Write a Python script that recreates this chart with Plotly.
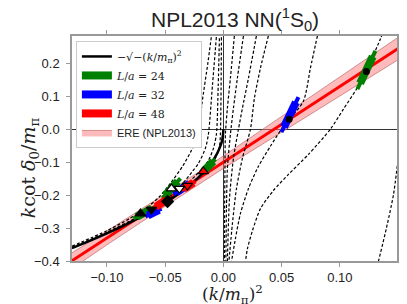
import plotly.graph_objects as go

# ---------------- data ----------------
# black solid curve  -sqrt(-(k/m)^2)
blk_x = [-0.13, -0.12, -0.10, -0.08, -0.06, -0.045, -0.035, -0.025, -0.018, -0.012, -0.008, -0.005, -0.0025, -0.001, 0.0]
blk_y = [-0.3606, -0.3464, -0.3162, -0.2828, -0.2449, -0.2121, -0.1871, -0.1581, -0.1342, -0.1095, -0.0894, -0.0707, -0.05, -0.0316, 0.0]

# ERE band (NPL2013)
ere_x = [-0.13, -0.10, -0.05, 0.0, 0.05, 0.10, 0.15]
ere_c = [-0.399, -0.330, -0.215, -0.100, 0.015, 0.130, 0.245]
ere_lo = [-0.423, -0.351, -0.234, -0.119, -0.009, 0.101, 0.211]
ere_hi = [-0.375, -0.309, -0.196, -0.081, 0.039, 0.159, 0.279]

# dashed Luscher curves (left branches)
L1_x = [-0.13, -0.10, -0.08, -0.065, -0.055, -0.045, -0.035, -0.028, -0.0215, -0.0184, -0.0134, -0.0103]
L1_y = [-0.355, -0.308, -0.270, -0.236, -0.205, -0.162, -0.112, -0.068, -0.015, 0.079, 0.20, 0.283]
L2_x = [-0.13, -0.10, -0.08, -0.06, -0.045, -0.035, -0.0266, -0.0215, -0.0155, -0.0129, -0.0094, -0.006]
L2_y = [-0.359, -0.313, -0.278, -0.238, -0.200, -0.165, -0.128, -0.104, -0.058, -0.015, 0.134, 0.283]
L3_x = [-0.13, -0.10, -0.08, -0.06, -0.045, -0.03, -0.0197, -0.0129, -0.0086, -0.006, -0.0045, -0.0034]
L3_y = [-0.360, -0.315, -0.281, -0.243, -0.207, -0.162, -0.125, -0.095, -0.058, -0.015, 0.13, 0.283]
L4_x = [-0.13, -0.10, -0.08, -0.06, -0.045, -0.03, -0.0172, -0.0103, -0.006, -0.0034, -0.0026, -0.0017]
L4_y = [-0.3605, -0.316, -0.282, -0.244, -0.210, -0.170, -0.134, -0.107, -0.082, -0.052, -0.015, 0.283]

# dashed Luscher curves (right branches)
Ra_x = [0.0094, 0.0060, 0.0034, 0.0017, 0.0013, 0.0010, 0.0009]
Ra_y = [0.2835, 0.1555, 0.064, -0.015, -0.119, -0.241, -0.402]
Rb_x = [0.0172, 0.0120, 0.0086, 0.0060, 0.0034, 0.0026, 0.0021]
Rb_y = [0.2835, 0.1555, 0.064, -0.015, -0.119, -0.241, -0.402]
Rc_x = [0.0283, 0.0215, 0.0163, 0.0129, 0.0086, 0.0052, 0.0034]
Rc_y = [0.2835, 0.1555, 0.064, 0.0, -0.088, -0.210, -0.402]
Rd_x = [0.0386, 0.0318, 0.0266, 0.0232, 0.0163, 0.0112, 0.0077, 0.0047]
Rd_y = [0.2835, 0.186, 0.0945, 0.0, -0.088, -0.180, -0.287, -0.402]
Re_x = [0.0807, 0.0747, 0.0687, 0.0567, 0.0498, 0.0403, 0.0300, 0.0215, 0.0146, 0.0103, 0.0069]
Re_y = [0.2835, 0.186, 0.0854, 0.0305, 0.0, -0.0518, -0.1128, -0.180, -0.256, -0.332, -0.402]
Rf_x = [0.1365, 0.1348, 0.1245, 0.1142, 0.1030, 0.0918, 0.0730, 0.0558, 0.0429, 0.0318, 0.0249, 0.0206, 0.0189]
Rf_y = [0.290, 0.2744, 0.192, 0.122, 0.061, 0.0, -0.0762, -0.1372, -0.186, -0.241, -0.308, -0.363, -0.402]
Rg_x = [0.133, 0.140, 0.146, 0.1494]
Rg_y = [-0.402, -0.299, -0.198, -0.107]

# lattice results: segment ends (lo -> hi) and centres
g24_x0 = [0.1150, -0.0773, -0.0524, -0.0189]
g24_y0 = [0.122, -0.271, -0.210, -0.134]
g24_x1 = [0.1305, -0.0584, -0.0369, -0.0069]
g24_y1 = [0.238, -0.235, -0.149, -0.091]
b32_x0 = [0.0498, -0.0670, -0.0429]
b32_y0 = [-0.009, -0.265, -0.198]
b32_x1 = [0.0644, -0.0532, -0.0266]
b32_y1 = [0.0976, -0.241, -0.159]
r48_x0 = [-0.060, -0.036]
r48_y0 = [-0.240, -0.185]
r48_x1 = [-0.047, -0.024]
r48_y1 = [-0.210, -0.158]
ctr_x = [0.1227, 0.0564]
ctr_y = [0.175, 0.030]

# other symbols in the cluster
mk_x = [-0.0712, -0.0618, -0.0480, -0.0446, -0.0378, -0.0309, -0.0172]
mk_y = [-0.256, -0.244, -0.2195, -0.180, -0.180, -0.171, -0.128]
mk_sym = ["triangle-up", "triangle-down", "diamond", "triangle-up", "triangle-down", "triangle-down", "triangle-up"]
mk_col = ["black", "black", "black", "white", "white", "red", "red"]

x_ticks = [-0.10, -0.05, 0.0, 0.05, 0.10]
y_ticks = [-0.4, -0.3, -0.2, -0.1, 0.0, 0.1, 0.2]

SANS = "Liberation Sans, Arial, sans-serif"
SERIF = "DejaVu Serif, Liberation Serif, serif"

# ---------------- figure ----------------
fig = go.Figure()

# ERE band
fig.add_trace(go.Scatter(x=ere_x, y=ere_lo, mode="lines",
                         line=dict(color="rgba(170,80,80,0.7)", width=0.8),
                         showlegend=False, hoverinfo="skip"))
fig.add_trace(go.Scatter(x=ere_x, y=ere_hi, mode="lines", fill="tonexty",
                         fillcolor="rgba(255,120,120,0.5)",
                         line=dict(color="rgba(170,80,80,0.7)", width=0.8),
                         name=f'<span style="font-family:{SANS}">ERE (NPL2013)</span>',
                         legendrank=5))
fig.add_trace(go.Scatter(x=ere_x, y=ere_c, mode="lines",
                         line=dict(color="red", width=3), showlegend=False))

# dashed curves
for cx, cy in [(L1_x, L1_y), (L2_x, L2_y), (L3_x, L3_y), (L4_x, L4_y),
               (Ra_x, Ra_y), (Rb_x, Rb_y), (Rc_x, Rc_y), (Rd_x, Rd_y),
               (Re_x, Re_y), (Rf_x, Rf_y), (Rg_x, Rg_y)]:
    fig.add_trace(go.Scatter(x=cx, y=cy, mode="lines", line_shape="spline",
                             line=dict(color="black", width=1.2, dash="3px,2px", smoothing=0.7),
                             showlegend=False, hoverinfo="skip"))

# black curve
fig.add_trace(go.Scatter(x=blk_x, y=blk_y, mode="lines", line_shape="spline",
                         line=dict(color="black", width=2.5),
                         name="−√−(<i>k</i>/<i>m</i><sub>π</sub>)<sup>2</sup>", legendrank=1))


def seg(x0, y0, x1, y1):
    xs, ys = [], []
    for a, b, c, d in zip(x0, y0, x1, y1):
        xs += [a, c, None]
        ys += [b, d, None]
    return xs, ys


def mid(x0, y0, x1, y1, f):
    xs, ys = [], []
    for a, b, c, d in zip(x0, y0, x1, y1):
        mx, my = (a + c) / 2, (b + d) / 2
        xs += [mx - (mx - a) * f, mx + (c - mx) * f, None]
        ys += [my - (my - b) * f, my + (d - my) * f, None]
    return xs, ys


for (x0, y0, x1, y1, col, nm, rk) in [
        (g24_x0, g24_y0, g24_x1, g24_y1, "green", "<i>L</i>/<i>a</i> = 24", 2),
        (b32_x0, b32_y0, b32_x1, b32_y1, "blue", "<i>L</i>/<i>a</i> = 32", 3),
        (r48_x0, r48_y0, r48_x1, r48_y1, "red", "<i>L</i>/<i>a</i> = 48", 4)]:
    sx, sy = seg(x0, y0, x1, y1)
    fig.add_trace(go.Scatter(x=sx, y=sy, mode="lines", line=dict(color=col, width=4),
                             showlegend=False, hoverinfo="skip"))
    mx, my = mid(x0, y0, x1, y1, 0.7)
    fig.add_trace(go.Scatter(x=mx, y=my, mode="lines", line=dict(color=col, width=8),
                             name=nm, legendrank=rk))

fig.add_trace(go.Scatter(x=ctr_x, y=ctr_y, mode="markers",
                         marker=dict(color="black", size=7), showlegend=False))
for x, y, s, c in zip(mk_x, mk_y, mk_sym, mk_col):
    fig.add_trace(go.Scatter(x=[x], y=[y], mode="markers", showlegend=False,
                             marker=dict(symbol=s, color=c, size=9,
                                         line=dict(color="black", width=1.2))))

axis_common = dict(showline=True, linecolor="#999999", linewidth=1.5, mirror="allticks",
                   ticks="outside", ticklen=4, tickcolor="#999999", showgrid=False,
                   zeroline=True, zerolinecolor="#333333", zerolinewidth=1,
                   tickfont=dict(family=SANS, size=13, color="#222222"))

fig.update_layout(
    width=407, height=304,
    margin=dict(l=64, r=18, t=28, b=51),
    paper_bgcolor="white", plot_bgcolor="white",
    xaxis=dict(range=[-0.13, 0.149], tickvals=x_ticks, tickformat=".2f", **axis_common),
    yaxis=dict(range=[-0.4, 0.283], tickvals=y_ticks, tickformat=".1f",
               ticklabelstandoff=4, **axis_common),
    legend=dict(x=0.012, y=0.978, xanchor="left", yanchor="top",
                bgcolor="white", bordercolor="#cccccc", borderwidth=1,
                font=dict(family=SERIF, size=11, color="#222222"),
                traceorder="normal", tracegroupgap=0, itemwidth=30),
    annotations=[
        dict(text="NPL2013 NN(<sup>1</sup>S<sub>0</sub>)", xref="paper", yref="paper",
             x=0.5, y=1.072, xanchor="center", yanchor="middle", showarrow=False,
             font=dict(family=SANS, size=21, color="#222222")),
        dict(text="(<i>k</i>/<i>m</i><sub>π</sub>)<sup>2</sup>", xref="paper", yref="paper",
             x=0.495, y=-0.147, xanchor="center", yanchor="middle", showarrow=False,
             font=dict(family=SERIF, size=17, color="#222222")),
        dict(text="<i>k</i>cot <i>δ</i><sub>0</sub>/<i>m</i><sub>π</sub>", xref="paper", yref="paper",
             x=-0.132, y=0.413, xanchor="center", yanchor="middle", showarrow=False,
             textangle=-90, font=dict(family=SERIF, size=19, color="#222222")),
    ],
)

fig.write_html("out.html")
